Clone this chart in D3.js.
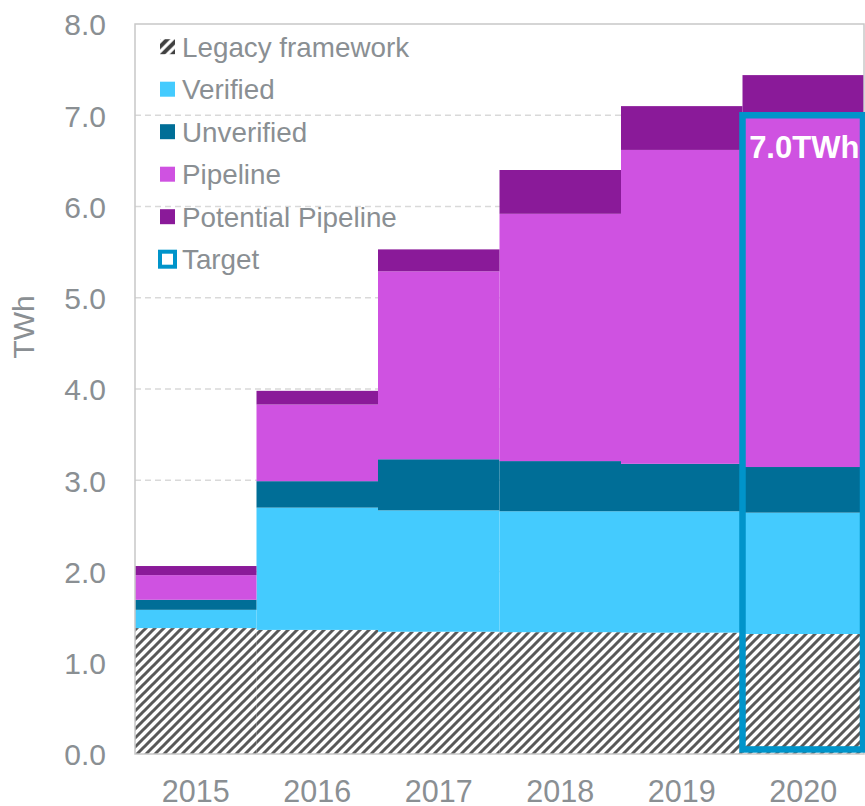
<!DOCTYPE html>
<html><head><meta charset="utf-8">
<script src="https://cdn.jsdelivr.net/npm/d3@7"></script>
<style>body{margin:0;background:#fff}svg{display:block}text{font-family:"Liberation Sans",Arial,sans-serif}</style>
</head><body><svg id="c" width="865" height="806"></svg>
<script>
const years = ['2015','2016','2017','2018','2019','2020'];
const legacy = [1.38,1.36,1.34,1.335,1.33,1.315];
const verified = [0.20,1.34,1.33,1.325,1.33,1.33];
const unverified = [0.11,0.29,0.56,0.55,0.52,0.50];
const pipeline = [0.27,0.84,2.06,2.71,3.44,3.85];
const potential = [0.10,0.15,0.24,0.48,0.48,0.445];
const targetYear = '2020';
const targetValue = 7.0;
const targetLabel = '7.0TWh';
const yTicks = [0,1,2,3,4,5,6,7,8];
const seriesNames = ['Legacy framework','Verified','Unverified','Pipeline','Potential Pipeline'];
const seriesData = [legacy, verified, unverified, pipeline, potential];
const colors = ['url(#hatch)','#44CBFE','#006E97','#CF52E1','#8A1A99'];
const targetColor = '#0094CA';

const svg = d3.select('#c');
const L = 135, R = 864, T = 24, B = 754;
const x = d3.scaleBand().domain(years).range([L, R]).padding(0);
const y = d3.scaleLinear().domain([0, 8]).range([B, T]);

const defs = svg.append('defs');
const pat = defs.append('pattern').attr('id','hatch').attr('patternUnits','userSpaceOnUse')
  .attr('width',9).attr('height',9);
pat.append('rect').attr('width',9).attr('height',9).attr('fill','#fff');
pat.append('path').attr('d','M-2.25,2.25 L2.25,-2.25 M0,9 L9,0 M6.75,11.25 L11.25,6.75')
  .attr('stroke','#595959').attr('stroke-width',3);
const pat2 = defs.append('pattern').attr('id','hatchL').attr('patternUnits','userSpaceOnUse')
  .attr('width',10).attr('height',10);
pat2.append('rect').attr('width',10).attr('height',10).attr('fill','#fff');
pat2.append('path').attr('d','M-2.5,2.5 L2.5,-2.5 M0,10 L10,0 M7.5,12.5 L12.5,7.5')
  .attr('stroke','#404040').attr('stroke-width',4);

// gridlines
svg.append('g').selectAll('line').data(yTicks.filter(d => d > 0 && d < 8)).join('line')
  .attr('x1', L).attr('x2', R).attr('y1', d => y(d)).attr('y2', d => y(d))
  .attr('stroke', '#d9d9d9').attr('stroke-width', 1.3).attr('stroke-dasharray', '6,4');

// stacked data
const table = years.map((yr, i) => {
  const o = {year: yr};
  seriesNames.forEach((s, k) => o[s] = seriesData[k][i]);
  return o;
});
const stack = d3.stack().keys(seriesNames)(table);
svg.append('g').selectAll('g').data(stack).join('g')
  .attr('fill', (d, i) => colors[i])
  .selectAll('rect').data(d => d).join('rect')
  .attr('x', d => x(d.data.year))
  .attr('width', x.bandwidth())
  .attr('y', d => y(d[1]))
  .attr('height', d => y(d[0]) - y(d[1]));

// plot border
svg.append('rect').attr('x', L).attr('y', T).attr('width', R - L).attr('height', B - T)
  .attr('fill', 'none').attr('stroke', '#c8c8c8').attr('stroke-width', 1.5);

// target box
const tx = x(targetYear);
svg.append('rect').attr('x', tx).attr('y', y(targetValue))
  .attr('width', x.bandwidth() - 1).attr('height', y(0.05) - y(targetValue))
  .attr('fill', 'none').attr('stroke', targetColor).attr('stroke-width', 6.5);
svg.append('text').attr('x', tx + x.bandwidth() / 2 + 1).attr('y', y(targetValue) + 43)
  .attr('text-anchor', 'middle').attr('fill', '#fff').attr('font-weight', 'bold')
  .attr('font-size', 31).text(targetLabel);

// y axis
const yAxis = d3.axisLeft(y).tickValues(yTicks).tickFormat(d3.format('.1f')).tickSize(0).tickPadding(0);
const gy = svg.append('g').attr('transform', `translate(${106},0)`).call(yAxis);
gy.select('.domain').remove();
gy.selectAll('text').attr('font-size', 30).attr('fill', '#8A8F93')
  .attr('font-family', '"Liberation Sans",Arial,sans-serif').attr('dy', '0.36em');

// x axis
const xAxis = d3.axisBottom(x).tickSize(0).tickPadding(0);
const gx = svg.append('g').attr('transform', `translate(0,${B})`).call(xAxis);
gx.select('.domain').remove();
gx.selectAll('text').attr('font-size', 30.5).attr('fill', '#8A8F93')
  .attr('font-family', '"Liberation Sans",Arial,sans-serif').attr('dy', 0).attr('y', 48);

// y title
svg.append('text').attr('transform', 'translate(34,327) rotate(-90)')
  .attr('text-anchor', 'middle').attr('font-size', 30).attr('fill', '#8A8F93').text('TWh');

// legend
const legendItems = seriesNames.map((s, i) => ({name: s, fill: i === 0 ? 'url(#hatchL)' : colors[i]}))
  .concat([{name: 'Target', target: true}]);
const lg = svg.append('g').selectAll('g').data(legendItems).join('g')
  .attr('transform', (d, i) => `translate(160,${46.7 + i * 42.5})`);
lg.each(function(d) {
  const g = d3.select(this);
  if (d.target) {
    g.append('rect').attr('x', 0).attr('y', -7.5).attr('width', 15).attr('height', 15)
      .attr('fill', '#fff').attr('stroke', targetColor).attr('stroke-width', 4);
  } else {
    g.append('rect').attr('x', 0).attr('y', -7.5).attr('width', 15).attr('height', 15).attr('fill', d.fill);
  }
});
lg.append('text').attr('x', 22).attr('y', 0).attr('dy', '0.36em')
  .attr('font-size', 27.8).attr('fill', '#8A8F93').text(d => d.name);
</script></body></html>
